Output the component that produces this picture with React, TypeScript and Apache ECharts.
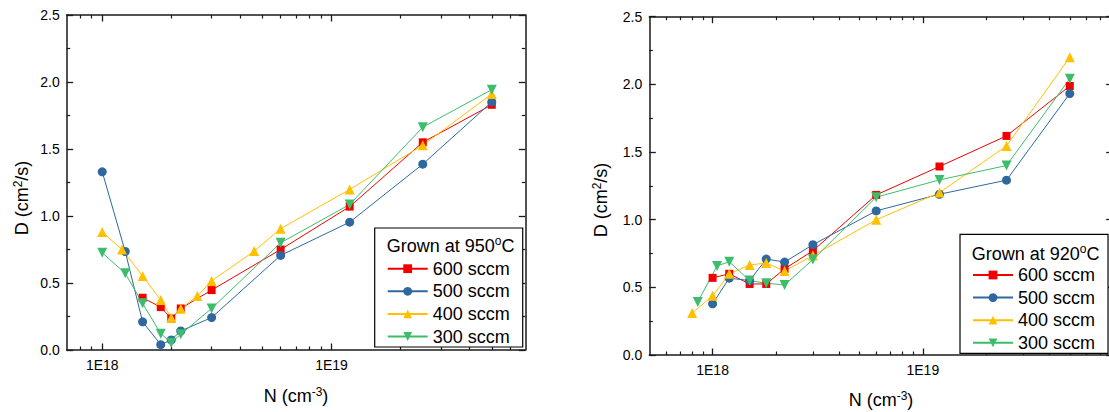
import React, { useEffect, useRef } from 'react';
import * as echarts from 'echarts';

const FONT = '"Liberation Sans", Arial, Helvetica, sans-serif';
const AX = '#1a1a1a';

const seriesNames = ['600 sccm', '500 sccm', '400 sccm', '300 sccm'];
const seriesColors = ['#f00000', '#2e689f', '#ffc000', '#3dbd6c'];
const seriesSymbols = ['rect', 'circle', 'triangle', 'triangle'];
const seriesSymbolSizes = [8, 9, 10, 10];
const seriesRotates = [0, 0, 0, 180];

// Left panel: grown at 950 °C
const n950_600 = [1.5e18, 1.8e18, 2.0e18, 2.2e18, 3.0e18, 6.0e18, 1.2e19, 2.5e19, 5.0e19];
const d950_600 = [0.39, 0.32, 0.235, 0.31, 0.447, 0.75, 1.07, 1.55, 1.83];
const n950_500 = [1.0e18, 1.26e18, 1.5e18, 1.8e18, 2.0e18, 2.2e18, 3.0e18, 6.0e18, 1.2e19, 2.5e19, 5.0e19];
const d950_500 = [1.33, 0.735, 0.21, 0.04, 0.075, 0.142, 0.242, 0.706, 0.954, 1.387, 1.851];
const n950_400 = [1.0e18, 1.22e18, 1.5e18, 1.8e18, 2.0e18, 2.2e18, 2.6e18, 3.0e18, 4.6e18, 6.0e18, 1.2e19, 2.5e19, 5.0e19];
const d950_400 = [0.88, 0.75, 0.552, 0.373, 0.241, 0.308, 0.403, 0.515, 0.738, 0.905, 1.198, 1.528, 1.911];
const n950_300 = [1.0e18, 1.26e18, 1.5e18, 1.8e18, 2.0e18, 2.2e18, 3.0e18, 6.0e18, 1.2e19, 2.5e19, 5.0e19];
const d950_300 = [0.726, 0.572, 0.348, 0.122, 0.055, 0.117, 0.31, 0.8, 1.086, 1.663, 1.943];

// Right panel: grown at 920 °C
const n920_600 = [1.0e18, 1.2e18, 1.5e18, 1.8e18, 2.2e18, 3.0e18, 6.0e18, 1.2e19, 2.5e19, 5.0e19];
const d920_600 = [0.57, 0.6, 0.525, 0.525, 0.637, 0.77, 1.183, 1.393, 1.619, 1.988];
const n920_500 = [1.0e18, 1.2e18, 1.5e18, 1.8e18, 2.2e18, 3.0e18, 6.0e18, 1.2e19, 2.5e19, 5.0e19];
const d920_500 = [0.378, 0.568, 0.55, 0.709, 0.687, 0.815, 1.065, 1.188, 1.292, 1.932];
const n920_400 = [8.0e17, 1.0e18, 1.2e18, 1.5e18, 1.8e18, 2.2e18, 3.0e18, 6.0e18, 1.2e19, 2.5e19, 5.0e19];
const d920_400 = [0.31, 0.437, 0.6, 0.665, 0.68, 0.62, 0.735, 0.999, 1.2, 1.545, 2.2];
const n920_300 = [8.5e17, 1.05e18, 1.2e18, 1.5e18, 1.8e18, 2.2e18, 3.0e18, 6.0e18, 1.2e19, 2.5e19, 5.0e19];
const d920_300 = [0.392, 0.658, 0.689, 0.55, 0.53, 0.518, 0.705, 1.166, 1.294, 1.4, 2.042];

// Axis ticks
const majorTicks = [1e18, 1e19];
const leftMinorTicks = [8e17, 9e17, 2e18, 3e18, 4e18, 5e18, 6e18, 7e18, 8e18, 9e18, 2e19, 3e19, 4e19, 5e19, 6e19, 7e19];
const rightMinorTicks = [6e17, 7e17, 8e17, 9e17, 2e18, 3e18, 4e18, 5e18, 6e18, 7e18, 8e18, 9e18, 2e19, 3e19, 4e19, 5e19, 6e19, 7e19];
const leftXRange = [7e17, 7e19];
const rightXRange = [5e17, 8e19];
const yRange = [0, 2.5];
const yInterval = 0.5;

const zip = (xs: number[], ys: number[]) => xs.map((x, i) => [x, ys[i]]);

const leftData = [zip(n950_600, d950_600), zip(n950_500, d950_500), zip(n950_400, d950_400), zip(n950_300, d950_300)];
const rightData = [zip(n920_600, d920_600), zip(n920_500, d920_500), zip(n920_400, d920_400), zip(n920_300, d920_300)];

function xAxesFor(grid: number, range: number[], minors: number[]) {
  const common: any = {
    gridIndex: grid,
    type: 'log',
    logBase: 10,
    min: range[0],
    max: range[1],
    splitLine: { show: false },
    minorSplitLine: { show: false },
  };
  const line = { show: true, lineStyle: { color: AX, width: 1.5 } };
  const noLine = { show: false };
  const majT = { show: true, inside: true, length: 6.5, customValues: majorTicks, lineStyle: { color: AX, width: 1.3 } };
  const minT = { show: true, inside: true, length: 3.5, customValues: minors, lineStyle: { color: AX, width: 1.2 } };
  return [
    {
      ...common,
      position: 'bottom',
      axisLine: line,
      axisTick: majT,
      axisLabel: {
        show: true,
        customValues: majorTicks,
        formatter: (v: number) => '1E' + Math.round(Math.log10(v)),
        fontSize: 14,
        color: '#000',
        fontFamily: FONT,
        margin: 8,
      },
    },
    { ...common, position: 'bottom', axisLine: noLine, axisTick: minT, axisLabel: { show: false } },
    { ...common, position: 'top', axisLine: line, axisTick: majT, axisLabel: { show: false } },
    { ...common, position: 'top', axisLine: noLine, axisTick: minT, axisLabel: { show: false } },
  ];
}

function yAxesFor(grid: number) {
  const common: any = {
    gridIndex: grid,
    type: 'value',
    min: yRange[0],
    max: yRange[1],
    interval: yInterval,
    splitLine: { show: false },
    minorSplitLine: { show: false },
    axisLine: { show: true, lineStyle: { color: AX, width: 1.5 } },
    axisTick: { show: true, inside: true, length: 6.5, lineStyle: { color: AX, width: 1.3 } },
    minorTick: { show: true, splitNumber: 2, length: 3.5, lineStyle: { color: AX, width: 1.2 } },
  };
  return [
    {
      ...common,
      position: 'left',
      axisLabel: {
        show: true,
        formatter: (v: number) => v.toFixed(1),
        fontSize: 14,
        color: '#000',
        fontFamily: FONT,
        margin: 7,
      },
    },
    { ...common, position: 'right', axisLabel: { show: false } },
  ];
}

function seriesFor(data: number[][][], xAxisIndex: number, yAxisIndex: number) {
  return data.map((d, i) => ({
    type: 'line',
    name: seriesNames[i],
    xAxisIndex,
    yAxisIndex,
    data: d,
    symbol: seriesSymbols[i],
    symbolSize: seriesSymbolSizes[i],
    symbolRotate: seriesRotates[i],
    lineStyle: { color: seriesColors[i], width: 1 },
    itemStyle: { color: seriesColors[i] },
    emphasis: { disabled: true },
  }));
}

const richMain = (size: number) => ({ fontSize: size, lineHeight: size + 3, fontFamily: FONT, fill: '#000' });
const richSup = (size: number) => ({ fontSize: size, lineHeight: size, fontFamily: FONT, fill: '#000', verticalAlign: 'top' });

function titleText(x: number, y: number, text: string, rotation = 0, align = 'center', size = 18, sup = 12) {
  return {
    type: 'text',
    x,
    y,
    rotation,
    z: 100,
    style: {
      text,
      align,
      verticalAlign: 'middle',
      rich: { a: richMain(size), s: richSup(sup) },
    },
  };
}

function legendFor(left: number, top: number) {
  return {
    data: seriesNames,
    orient: 'vertical',
    left,
    top,
    padding: [31.7, 13, 1.5, 12],
    itemWidth: 40,
    itemHeight: 11,
    itemGap: 4.6,
    selectedMode: false,
    textStyle: { fontSize: 18, fontFamily: FONT, color: '#000' },
    borderColor: '#000',
    borderWidth: 1.2,
    backgroundColor: '#fff',
    borderRadius: 0,
  };
}

export default function App() {
  const ref = useRef<HTMLDivElement>(null);
  useEffect(() => {
    if (!ref.current) return;
    const chart = echarts.init(ref.current, undefined, { renderer: 'svg' });
    const option: any = {
      animation: false,
      backgroundColor: '#fff',
      grid: [
        { left: 66.7, top: 15, width: 458.6, height: 335, outerBoundsMode: 'none', containLabel: false },
        { left: 649.3, top: 16.7, width: 463.4, height: 338.3, outerBoundsMode: 'none', containLabel: false },
      ],
      xAxis: [...xAxesFor(0, leftXRange, leftMinorTicks), ...xAxesFor(1, rightXRange, rightMinorTicks)],
      yAxis: [...yAxesFor(0), ...yAxesFor(1)],
      legend: [legendFor(374.7, 228), legendFor(960, 234.3)],
      series: [...seriesFor(leftData, 0, 0), ...seriesFor(rightData, 4, 2)],
      graphic: [
        titleText(22, 198, '{a|D (cm}{s|2}{a|/s)}', Math.PI / 2),
        titleText(296, 396, '{a|N (cm}{s|-3}{a|)}'),
        titleText(601, 200, '{a|D (cm}{s|2}{a|/s)}', Math.PI / 2),
        titleText(881, 400, '{a|N (cm}{s|-3}{a|)}'),
        titleText(386.7, 245.5, '{a|Grown at 950}{s|o}{a|C}', 0, 'left', 18, 12),
        titleText(971.7, 253.5, '{a|Grown at 920}{s|o}{a|C}', 0, 'left', 18, 12),
      ],
    };
    chart.setOption(option);
    return () => chart.dispose();
  }, []);
  return (
    <div
      ref={ref}
      style={{ position: 'absolute', left: 0, top: 0, width: 1109, height: 412, overflow: 'hidden' }}
    />
  );
}
